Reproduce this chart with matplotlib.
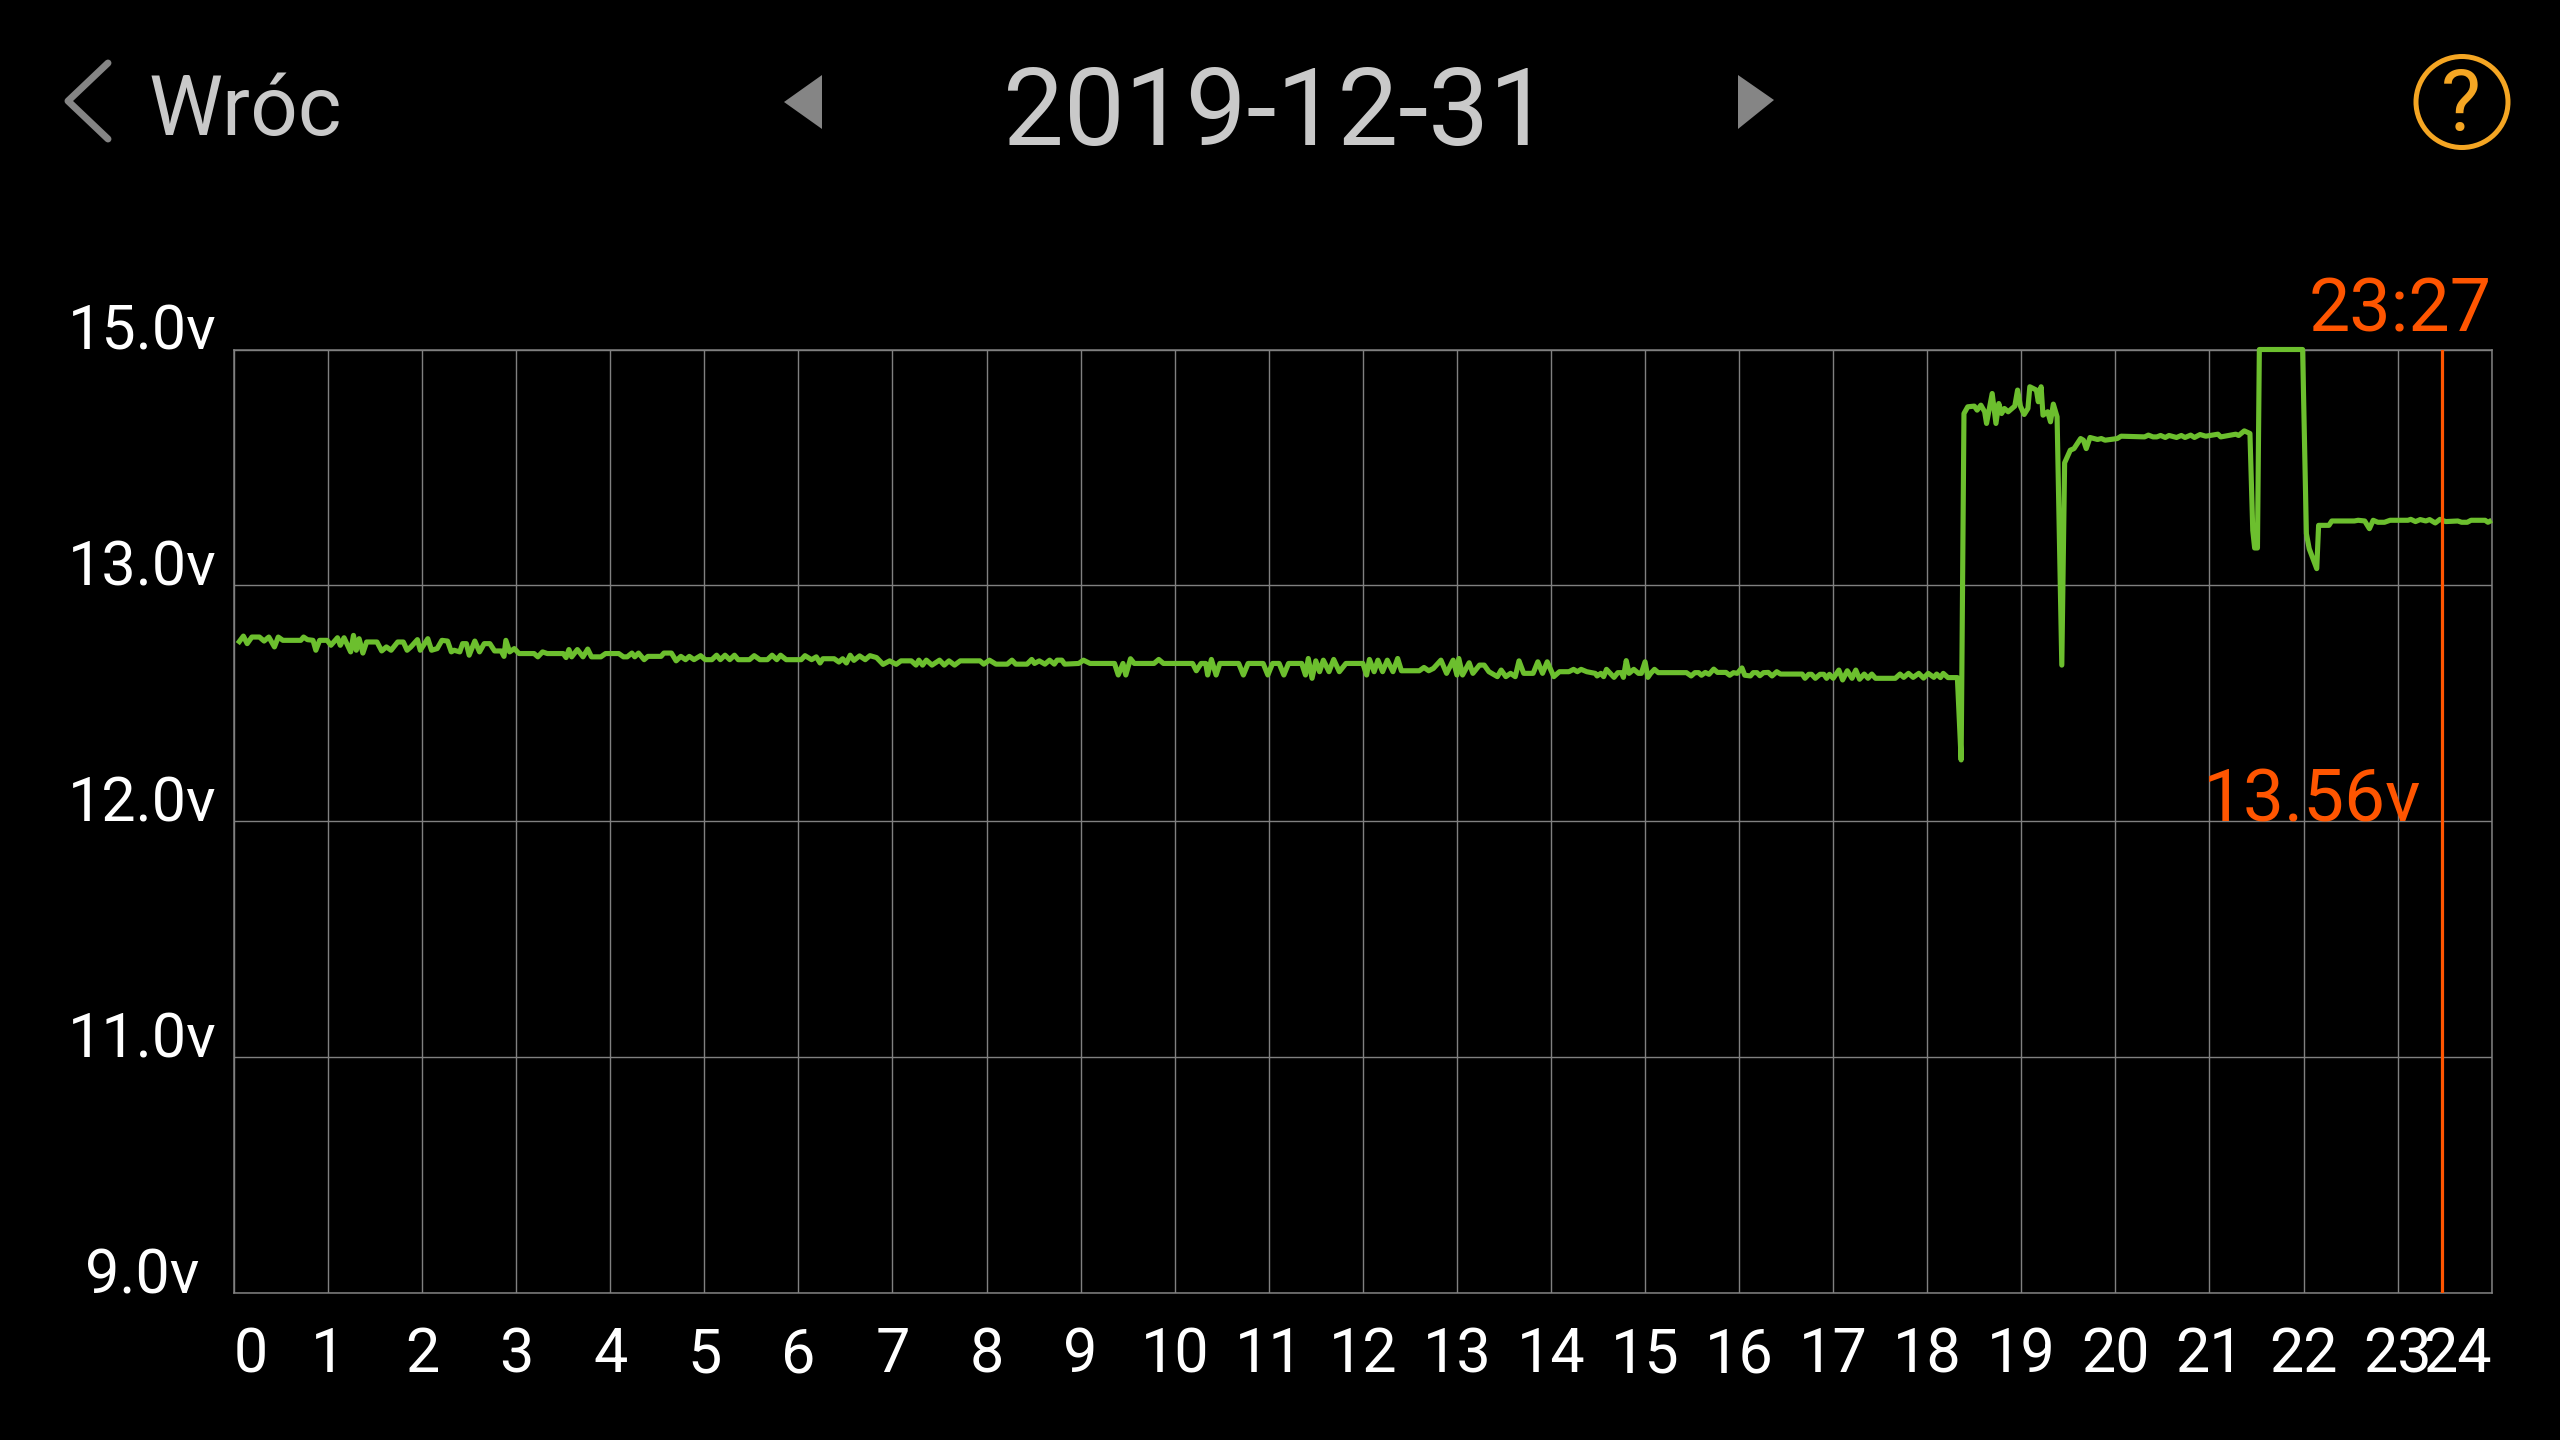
import numpy as np
import matplotlib
matplotlib.use("Agg")
import matplotlib.pyplot as plt
from matplotlib.patches import Polygon, Ellipse

plt.rcParams['font.family'] = ['Roboto', 'DejaVu Sans']

date_title = "2019-12-31"
back_label = "Wróc"
cursor_time = "23:27"
cursor_value = "13.56v"
cursor_hour = 23.47
hour_ticks = list(range(25))
volt_ticks = [9.0, 11.0, 12.0, 13.0, 15.0]
volt_labels = ["9.0v", "11.0v", "12.0v", "13.0v", "15.0v"]

hours_a = [.04,.10,.14,.19,.27,.32,.37,.43,.47,.52,.71,.74,.78,.84,.87,.91,.99,1.03,1.10,1.13,1.17,1.24,1.27,1.30,1.33,1.37,1.41,1.52,1.57,1.62,1.67,1.74,1.80,1.84,1.88,1.95,1.98,2.06,2.10,2.16,2.21,2.27,2.31,2.34,2.40,2.43,2.47,2.50,2.56,2.61,2.66,2.72,2.77,2.84,2.87,2.89,2.93,2.98,3.03,3.19,3.23,3.28,3.33,3.50,3.53,3.56,3.59,3.65,3.71,3.76,3.80,3.90,3.95,4.09,4.14,4.18,4.23,4.26,4.30,4.36,4.40,4.54,4.57,4.65,4.70,4.75,4.80,4.84,4.89,4.96,5.01,5.08,5.13,5.17,5.22,5.27,5.32,5.36,5.48,5.53,5.59,5.67,5.72,5.77,5.81,5.87,6.03,6.07,6.14,6.19,6.23,6.26,6.38,6.43,6.47,6.51,6.55,6.59,6.65,6.71,6.76,6.83,6.90,6.97,7.04,7.09]
volts_a = [12.753,12.785,12.753,12.781,12.781,12.764,12.781,12.739,12.781,12.767,12.767,12.781,12.770,12.767,12.725,12.767,12.767,12.746,12.778,12.746,12.778,12.718,12.788,12.725,12.774,12.713,12.760,12.760,12.722,12.739,12.725,12.760,12.760,12.725,12.739,12.770,12.725,12.774,12.725,12.732,12.767,12.764,12.718,12.725,12.718,12.753,12.753,12.704,12.764,12.718,12.753,12.753,12.722,12.722,12.699,12.767,12.718,12.732,12.711,12.711,12.697,12.718,12.711,12.711,12.694,12.728,12.697,12.728,12.697,12.730,12.697,12.697,12.711,12.711,12.697,12.697,12.713,12.697,12.713,12.685,12.699,12.699,12.713,12.713,12.680,12.699,12.685,12.699,12.685,12.702,12.685,12.685,12.704,12.685,12.704,12.685,12.704,12.685,12.685,12.702,12.685,12.685,12.704,12.685,12.704,12.685,12.685,12.702,12.685,12.697,12.671,12.689,12.689,12.675,12.689,12.671,12.704,12.682,12.701,12.685,12.702,12.694,12.665,12.680,12.665,12.680]

hours_b = [7.20,7.25,7.28,7.32,7.36,7.42,7.50,7.55,7.60,7.66,7.72,7.93,7.97,8.03,8.10,8.22,8.27,8.31,8.43,8.48,8.51,8.56,8.62,8.67,8.72,8.75,8.80,8.83,8.98,9.03,9.10,9.36,9.40,9.45,9.48,9.53,9.57,9.78,9.83,9.88,10.19,10.23,10.28,10.33,10.35,10.39,10.44,10.48,10.68,10.73,10.78,10.94,10.99,11.04,11.11,11.16,11.21,11.35,11.39,11.42,11.46,11.50,11.54,11.58,11.64,11.69,11.75,11.82,12.00,12.04,12.07,12.12,12.16,12.21,12.26,12.32,12.37,12.41,12.60,12.65,12.70,12.75,12.83,12.89,12.96,13.00,13.02,13.06,13.13,13.17,13.24,13.29,13.34,13.43,13.47,13.52,13.57,13.62,13.66,13.71,13.81,13.86,13.91,13.96,14.03,14.09,14.19,14.24,14.28,14.32,14.38]
volts_b = [12.680,12.662,12.683,12.662,12.683,12.662,12.683,12.662,12.680,12.662,12.680,12.680,12.666,12.683,12.666,12.666,12.683,12.666,12.666,12.686,12.669,12.680,12.666,12.683,12.666,12.683,12.683,12.666,12.669,12.683,12.669,12.669,12.620,12.669,12.620,12.689,12.669,12.669,12.686,12.669,12.669,12.638,12.669,12.669,12.620,12.686,12.620,12.669,12.669,12.620,12.669,12.669,12.620,12.669,12.669,12.620,12.669,12.669,12.620,12.690,12.606,12.680,12.634,12.683,12.634,12.686,12.634,12.669,12.669,12.620,12.686,12.634,12.683,12.634,12.683,12.634,12.690,12.638,12.638,12.652,12.638,12.648,12.683,12.627,12.683,12.620,12.690,12.620,12.672,12.627,12.662,12.662,12.634,12.613,12.641,12.613,12.627,12.613,12.680,12.627,12.627,12.676,12.627,12.676,12.613,12.634,12.634,12.644,12.634,12.644,12.634]

hours_c = [14.47,14.49,14.53,14.56,14.59,14.63,14.67,14.71,14.75,14.77,14.80,14.83,14.88,14.93,14.96,15.00,15.03,15.06,15.10,15.14,15.44,15.49,15.53,15.57,15.60,15.64,15.68,15.73,15.77,15.86,15.90,15.94,15.98,16.03,16.06,16.12,16.15,16.19,16.22,16.26,16.31,16.35,16.40,16.44,16.67,16.70,16.74,16.77,16.81,16.86,16.90,16.93,16.96,17.00,17.06,17.10,17.15,17.20,17.24,17.28,17.33,17.37,17.41,17.45,17.66,17.71,17.75,17.80,17.85,17.91,17.96,18.01,18.07,18.10,18.14,18.17,18.22,18.32]
volts_c = [12.627,12.616,12.627,12.613,12.644,12.627,12.610,12.630,12.630,12.610,12.681,12.627,12.644,12.627,12.627,12.676,12.610,12.627,12.644,12.630,12.630,12.616,12.630,12.630,12.619,12.631,12.623,12.645,12.631,12.631,12.619,12.630,12.627,12.650,12.619,12.616,12.630,12.630,12.617,12.630,12.631,12.616,12.634,12.624,12.624,12.606,12.623,12.623,12.606,12.623,12.623,12.606,12.623,12.606,12.641,12.599,12.638,12.606,12.641,12.602,12.624,12.606,12.624,12.606,12.606,12.624,12.610,12.627,12.610,12.627,12.607,12.627,12.610,12.624,12.609,12.627,12.609,12.609]

hours_d = [18.36,18.39,18.43,18.50,18.53,18.57,18.61,18.63,18.69,18.73,18.76,18.79,18.82,18.86,18.93,18.96,18.99,19.03,19.07,19.09,19.16,19.18,19.21,19.23,19.28,19.31,19.34,19.38,19.43,19.46,19.52,19.56,19.63,19.66,19.69,19.73,19.81,19.85,19.89,20.02,20.06,20.31,20.35,20.40,20.44,20.48,20.53,20.57,20.65,20.70,20.74,20.80,20.84,20.90,20.96,21.09,21.12,21.28,21.31,21.37,21.43,21.46,21.48,21.51,21.53,21.99,22.03,22.06,22.14,22.16,22.27,22.30,22.54,22.58,22.65,22.70,22.74,22.79,22.86,22.92,23.11,23.14,23.19,23.24,23.30,23.34,23.40,23.45,23.51,23.64,23.68,23.74,23.78,23.93,23.96,24.00]
volts_d = [12.260,14.457,14.514,14.520,14.486,14.528,14.472,14.373,14.627,14.373,14.542,14.457,14.500,14.472,14.520,14.656,14.520,14.449,14.500,14.684,14.656,14.557,14.684,14.443,14.472,14.387,14.537,14.429,12.662,14.039,14.146,14.160,14.245,14.231,14.160,14.254,14.237,14.245,14.231,14.245,14.265,14.259,14.274,14.259,14.259,14.271,14.254,14.271,14.254,14.271,14.254,14.274,14.254,14.279,14.265,14.282,14.259,14.282,14.271,14.310,14.288,13.467,13.317,13.317,15.0,15.0,13.439,13.311,13.142,13.509,13.509,13.546,13.546,13.552,13.546,13.481,13.552,13.535,13.535,13.552,13.552,13.560,13.541,13.558,13.546,13.558,13.529,13.560,13.541,13.546,13.535,13.535,13.552,13.552,13.535,13.552]

hours = hours_a + hours_b + hours_c + hours_d
volts = volts_a + volts_b + volts_c + volts_d

BG = "#000000"
GRID = "#808080"
GREEN = "#6CBF2E"
ORANGE = "#FF5500"
LIGHT = "#C9C9C9"
MID = "#858585"
AMBER = "#F5A623"

W, H = 2560, 1440
fig = plt.figure(figsize=(W / 100, H / 100), dpi=100, facecolor=BG)
L, R, T, B = 234, 2491.7, 349.5, 1293
ax = fig.add_axes([L / W, 1 - B / H, (R - L) / W, (B - T) / H], facecolor=BG)

slots = np.arange(len(volt_ticks), dtype=float)
ax.set_yscale('function', functions=(lambda v: np.interp(v, volt_ticks, slots),
                                     lambda s: np.interp(s, slots, volt_ticks)))
ax.set_xlim(0, 24)
ax.set_ylim(9, 15)
ax.set_xticks(hour_ticks)
ax.set_xticklabels([str(h) for h in hour_ticks])
ax.set_yticks(volt_ticks)
ax.set_yticklabels(volt_labels)
ax.minorticks_off()
ax.grid(True, color=GRID, lw=1.0, zorder=1)
ax.set_axisbelow(True)
for s in ax.spines.values():
    s.set_color(GRID)
    s.set_linewidth(1.1)

ax.tick_params(axis='y', length=0, pad=66, labelsize=44, labelcolor='white')
ax.tick_params(axis='x', length=0, pad=57, labelsize=44, labelcolor='white')
for t in ax.get_yticklabels():
    t.set_ha('center')
    t.set_va('baseline')
xl = ax.get_xticklabels()
for t in xl:
    t.set_va('baseline')
xl[0].set_ha('left')
xl[-1].set_ha('right')

ax.plot(hours, volts, color=GREEN, lw=3.7, solid_joinstyle='round', solid_capstyle='butt',
        clip_on=False, zorder=3)
ax.axvline(cursor_hour, color=ORANGE, lw=2.3, zorder=4)

ax.annotate(cursor_time, xy=(24, 15), xytext=(0, 13), textcoords='offset points',
            ha='right', va='baseline', color=ORANGE, fontsize=53, annotation_clip=False)
ax.annotate(cursor_value, xy=(cursor_hour, 12), xytext=(-14.5, 0), textcoords='offset points',
            ha='right', va='baseline', color=ORANGE, fontsize=52.5, zorder=5)

# App header (screen chrome), in pixel coordinates of the screenshot
ov = fig.add_axes([0, 0, 1, 1], facecolor='none')
ov.set_xlim(0, W)
ov.set_ylim(H, 0)
ov.axis('off')
ov.plot([108, 68, 108], [63, 101, 139], color=MID, lw=5.0, solid_capstyle='round', solid_joinstyle='round')
ov.text(149, 135, back_label, color=LIGHT, fontsize=60, ha='left', va='baseline')
ov.add_patch(Polygon([(822, 75), (784, 102), (822, 129)], closed=True, fc=MID, ec='none'))
ov.text(1277, 145, date_title, color=LIGHT, fontsize=78, ha='center', va='baseline')
ov.add_patch(Polygon([(1738, 75), (1774, 100), (1738, 129)], closed=True, fc=MID, ec='none'))
ov.add_patch(Ellipse((2462, 102), 92, 91, fc='none', ec=AMBER, lw=3.6))
ov.text(2461, 131, "?", color=AMBER, fontsize=61, ha='center', va='baseline')

fig.savefig("out.png", dpi=100, facecolor=BG)
